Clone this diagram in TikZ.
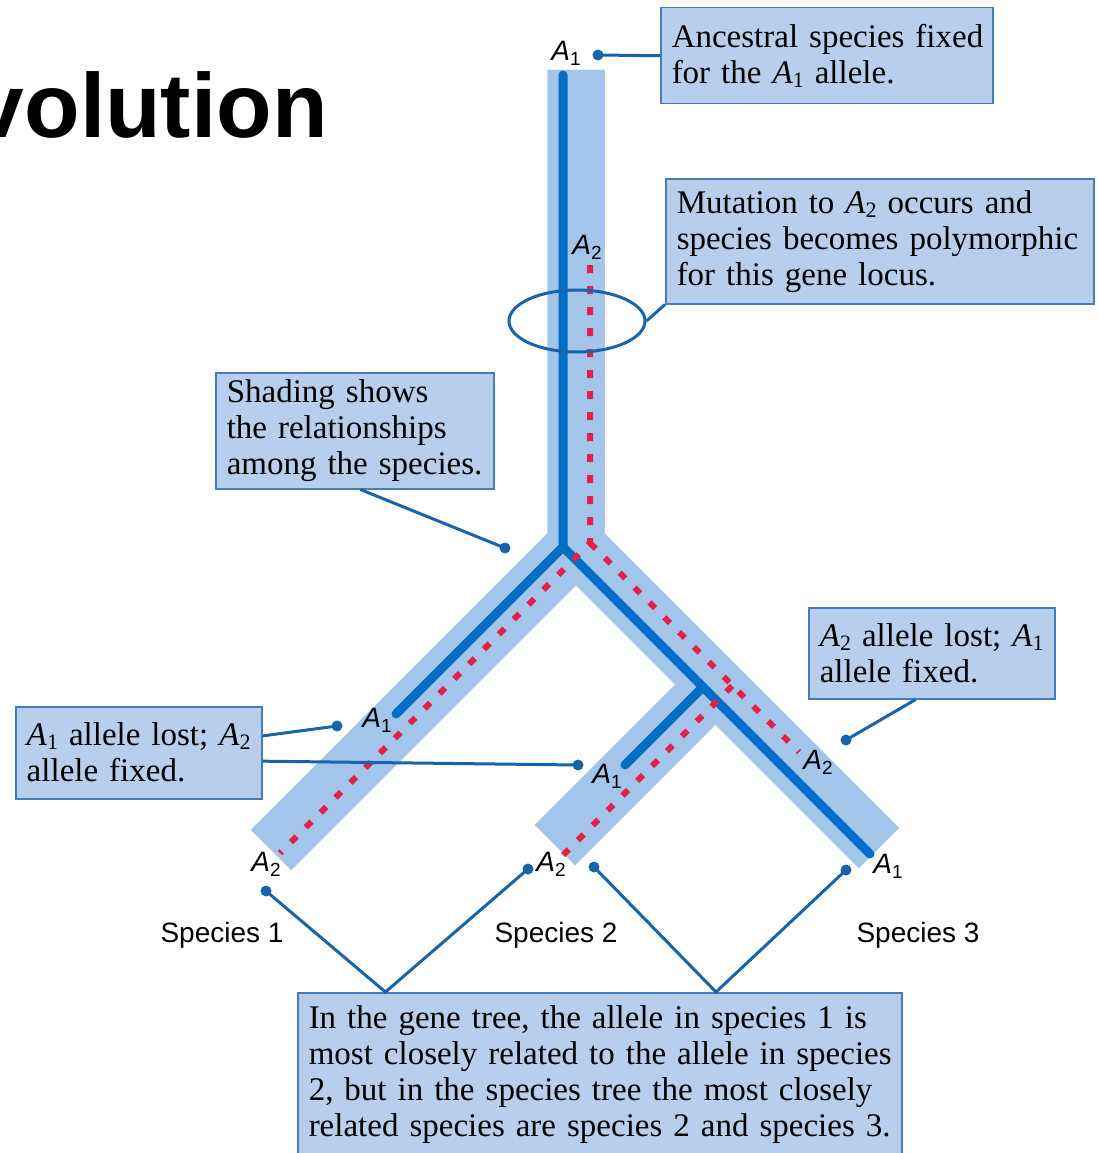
\documentclass[tikz,border=0pt]{standalone}
\usepackage{fontspec}
\setmainfont{Liberation Serif}
\newfontfamily\arial{Liberation Sans}
\usetikzlibrary{shapes.geometric,calc}
\definecolor{bandc}{RGB}{163,197,234}
\definecolor{boxfill}{RGB}{183,207,236}
\definecolor{boxline}{RGB}{70,125,185}
\definecolor{geneblue}{RGB}{0,110,196}
\definecolor{redc}{RGB}{228,32,72}
\definecolor{connc}{RGB}{24,100,170}
\newcommand{\sA}[1]{\textit{A}\lower4pt\hbox{\fontsize{22}{22}\selectfont #1}}
\newcommand{\al}[1]{{\arial\fontsize{28}{28}\selectfont\itshape A\/\upshape\lower5pt\hbox{\fontsize{19}{19}\selectfont #1}}}
\begin{document}
\begin{tikzpicture}[x=1pt,y=-1pt,
 box/.style={draw=boxline, line width=1.5pt, fill=boxfill, anchor=north west, align=left, inner xsep=11pt, inner ysep=0pt, font=\fontsize{33}{36}\selectfont},
 band/.style={draw=bandc, line width=57pt, line join=miter},
 gene/.style={draw=geneblue, line width=9pt, line cap=round},
 rdash/.style={draw=redc, line width=6pt, dash pattern=on 8pt off 13pt},
 conn/.style={draw=connc, line width=3pt},
 dotc/.style={circle, fill=connc, inner sep=0pt, minimum size=11pt},
 lab/.style={inner sep=0pt},
 spc/.style={font=\arial\fontsize{28}{28}\selectfont, inner sep=0pt}]
\useasboundingbox (0,0) rectangle (1097,1153);
\clip (0,0) rectangle (1097,1153);
\fill[white] (0,0) rectangle (1097,1153);
% title
\node[anchor=base west, inner sep=0pt, font=\arial\bfseries\fontsize{91}{91}\selectfont] (title) at (-87,138) {Evolution};
% species tree bands
\draw[band] (576,70) -- (576,545) -- (271,850);
\draw[band] (576,70) -- (576,545) -- (879,848);
\draw[band] (716,684) -- (555,845);
% gene lines
\draw[gene] (563,75) -- (563,547) -- (396,714);
\draw[gene] (563,547) -- (870,854);
\draw[gene] (703,687) -- (625,765);
\draw[rdash] (590,265) -- (590,543) -- (280,853);
\draw[rdash] (590,543) -- (799,752);
\draw[rdash] (732,686) -- (562,856);
% ellipse
\node[ellipse, draw=connc, line width=3pt, minimum width=136pt, minimum height=62pt, inner sep=0pt] (ell) at (577,321) {};
% allele labels
\node[lab] (la1) at (566,53) {\al{1}};
\node[lab] (la2) at (587,247) {\al{2}};
\node[lab] (la3) at (377,720) {\al{1}};
\node[lab] (la4) at (266,864) {\al{2}};
\node[lab] (la5) at (607,776) {\al{1}};
\node[lab] (la6) at (551,864) {\al{2}};
\node[lab] (la7) at (818,762) {\al{2}};
\node[lab] (la8) at (888,866) {\al{1}};
% species labels
\node[spc] (s1) at (222,935) {Species 1};
\node[spc] (s2) at (556,935) {Species 2};
\node[spc] (s3) at (918,935) {Species 3};
% boxes
\node[box, text width=310pt, minimum height=96pt] (b1) at (660,7) {\mbox{Ancestral species fixed}\\\mbox{for the \sA{1} allele.}};
\node[box, text width=406pt, minimum height=125pt] (b2) at (665,178) {\mbox{Mutation to \sA{2} occurs and}\\\mbox{species becomes polymorphic}\\\mbox{for this gene locus.}};
\node[box, text width=256pt, minimum height=116pt] (b3) at (215,372) {\mbox{Shading shows}\\\mbox{the relationships}\\\mbox{among the species.}};
\node[box, text width=224pt, minimum height=92pt] (b4) at (15,706) {\mbox{\sA{1} allele lost; \sA{2}}\\\mbox{allele fixed.}};
\node[box, text width=224pt, minimum height=91pt] (b5) at (808,607) {\mbox{\sA{2} allele lost; \sA{1}}\\\mbox{allele fixed.}};
\node[box, text width=582pt, minimum height=164pt] (b6) at (297,992) {\mbox{In the gene tree, the allele in species 1 is}\\\mbox{most closely related to the allele in species}\\\mbox{2, but in the species tree the most closely}\\\mbox{related species are species 2 and species 3.}};
% dots
\node[dotc] (d1) at (598,55) {};
\node[dotc] (d3) at (505,548) {};
\node[dotc] (d4a) at (337,726) {};
\node[dotc] (d4b) at (578,765) {};
\node[dotc] (d5) at (846,740) {};
\node[dotc] (d6a) at (266,891) {};
\node[dotc] (d6b) at (528,869) {};
\node[dotc] (d6c) at (594,867) {};
\node[dotc] (d6d) at (846,870) {};
% connectors
\draw[conn] (b1.west) -- (d1.center);
\draw[conn] (b2.south west) -- (ell.east);
\draw[conn] ($(b3.south west)!0.52!(b3.south east)$) -- (d3.center);
\draw[conn] ($(b4.north east)!0.32!(b4.south east)$) -- (d4a.center);
\draw[conn] ($(b4.north east)!0.59!(b4.south east)$) -- (d4b.center);
\draw[conn] ($(b5.south west)!0.435!(b5.south east)$) -- (d5.center);
\coordinate (c6l) at ($(b6.north west)!0.146!(b6.north east)$);
\coordinate (c6r) at ($(b6.north west)!0.692!(b6.north east)$);
\draw[conn] (d6a.center) -- (c6l) -- (d6b.center);
\draw[conn] (d6c.center) -- (c6r) -- (d6d.center);
\end{tikzpicture}
\end{document}
